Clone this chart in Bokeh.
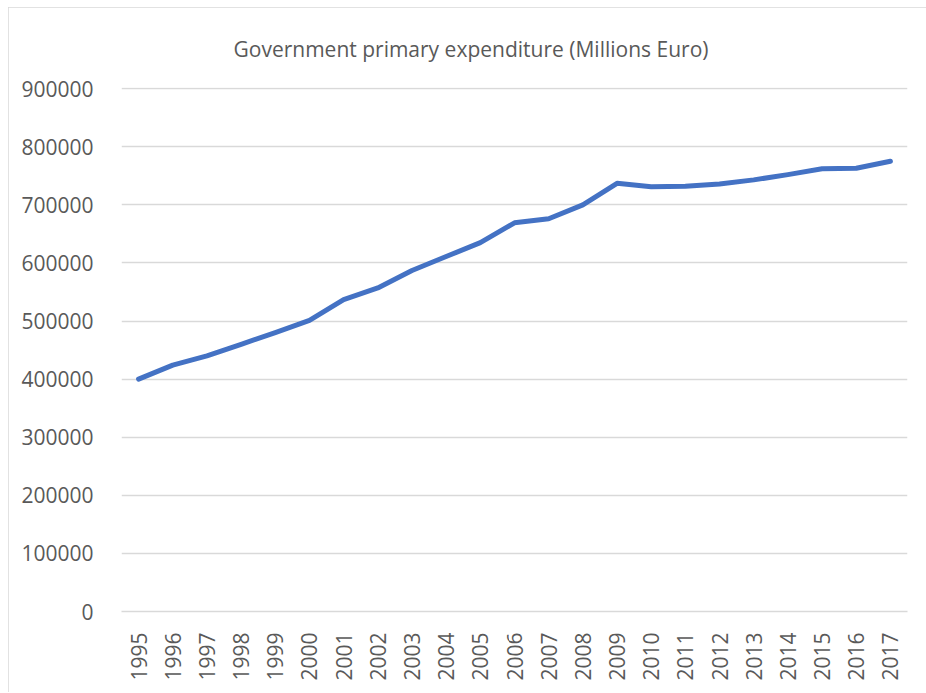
from bokeh.plotting import figure
from bokeh.models import Range1d, FixedTicker, Title
from bokeh.embed import file_html
from bokeh.resources import INLINE

years = list(range(1995, 2018))
expenditure = [400000, 424000, 440000, 460000, 480000, 501000, 537000, 557000,
               587000, 611000, 635000, 669000, 676000, 700000, 737000, 731000,
               732000, 736000, 743000, 752000, 762000, 763000, 775000]
y_ticks = [0, 100000, 200000, 300000, 400000, 500000, 600000, 700000, 800000, 900000]
title_text = "Government primary expenditure (Millions Euro)"

FONT = "Open Sans"
TXT = "#595959"
GRID = "#d9d9d9"

p = figure(width=918, height=685, output_backend="svg", toolbar_location=None,
           x_range=Range1d(1994.5, 2017.5), y_range=Range1d(0, 902000),
           min_border_left=113, min_border_right=19, min_border_top=80,
           min_border_bottom=81)
p.title = None
t = Title(text=title_text, align="left", text_font=FONT, text_font_size="21px",
          text_color=TXT, text_font_style="normal", standoff=49, offset=112)
p.add_layout(t, "above")

p.line(years, expenditure, line_color="#4472C4", line_width=5, line_cap="round",
       line_join="round")

p.outline_line_color = None
p.background_fill_color = "white"
p.border_fill_color = "white"

p.xgrid.grid_line_color = None
p.ygrid.grid_line_color = GRID
p.ygrid.grid_line_width = 1.3
p.ygrid.ticker = FixedTicker(ticks=y_ticks)

p.yaxis.ticker = FixedTicker(ticks=y_ticks)
p.yaxis.axis_line_color = None
p.yaxis.major_tick_line_color = None
p.yaxis.minor_tick_line_color = None
p.yaxis.major_label_standoff = 22
p.yaxis.major_label_text_font = FONT
p.yaxis.major_label_text_font_size = "21px"
p.yaxis.major_label_text_color = TXT
p.yaxis.formatter.use_scientific = False

p.xaxis.ticker = FixedTicker(ticks=years)
p.xaxis.axis_line_color = GRID
p.xaxis.axis_line_width = 1.3
p.xaxis.major_tick_line_color = None
p.xaxis.minor_tick_line_color = None
p.xaxis.major_label_orientation = 1.5708
p.xaxis.major_label_standoff = 15
p.xaxis.major_label_text_font = FONT
p.xaxis.major_label_text_font_size = "21px"
p.xaxis.major_label_text_color = TXT

p.styles = {"margin": "7px 0 0 8px", "outline": "1px solid #d9d9d9",
            "outline-offset": "-1px"}

open("out.html", "w").write(file_html(p, INLINE))
